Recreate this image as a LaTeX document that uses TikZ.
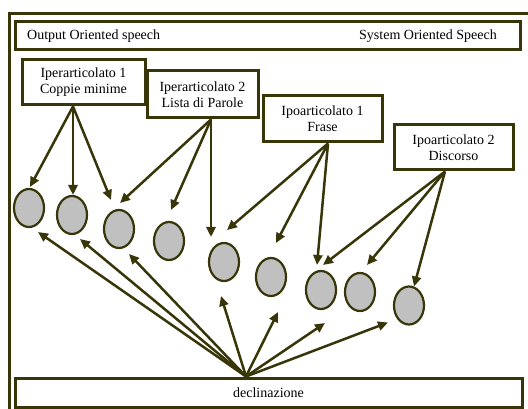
\documentclass[tikz,border=0pt]{standalone}
\usepackage{fontspec}
\setmainfont{Liberation Serif}
\usetikzlibrary{shapes.geometric,arrows.meta,calc}
\definecolor{olive}{RGB}{56,54,8}
\definecolor{dotfill}{RGB}{192,192,192}
\tikzset{
  frame/.style={draw=olive,line width=3pt},
  labelbox/.style={draw=olive,line width=3pt,fill=white,inner sep=0pt,align=center,
    font=\fontsize{14}{16}\selectfont},
  dot/.style={ellipse,draw=olive,line width=2.2pt,fill=dotfill,minimum width=30pt,minimum height=38pt,inner sep=0pt},
  arr/.style={draw=olive,line width=2.5pt,-{Triangle[length=10pt,width=9pt]}},
}
\begin{document}
\begin{tikzpicture}[x=1pt,y=-1pt]
\useasboundingbox (0,0) rectangle (528,409);
% outer frame (only top and left visible)
\draw[frame] (9,409) -- (9,14) -- (528,14);
% banner
\node[labelbox,minimum width=505pt,minimum height=28pt] (banner) at (267.5,36) {};
\node[font=\fontsize{14}{16}\selectfont,anchor=west,inner sep=0pt] (oos) at (27,36) {Output Oriented speech};
\node[font=\fontsize{14}{16}\selectfont,anchor=east,inner sep=0pt] (sos) at (497,36) {System Oriented Speech};
% bottom box
\node[labelbox,minimum width=507pt,minimum height=29pt] (decl) at (268.5,392.5) {declinazione};
% label boxes
\node[labelbox,minimum width=123pt,minimum height=45pt] (b1) at (83.5,82.5) {Iperarticolato 1\\Coppie minime};
\node[labelbox,minimum width=111pt,minimum height=47pt] (b2) at (202.5,94.5) {Iperarticolato 2\\Lista di Parole};
\node[labelbox,minimum width=119pt,minimum height=46pt] (b3) at (322.5,119) {Ipoarticolato 1\\Frase};
\node[labelbox,minimum width=119pt,minimum height=45pt] (b4) at (453.5,147.5) {Ipoarticolato 2\\Discorso};
% ellipses
\node[dot] (e1) at (29,208) {};
\node[dot] (e2) at (72,215) {};
\node[dot] (e3) at (119,229) {};
\node[dot] (e4) at (169,241) {};
\node[dot] (e5) at (224,262) {};
\node[dot] (e6) at (271,277) {};
\node[dot] (e7) at (321,290) {};
\node[dot] (e8) at (360,292) {};
\node[dot] (e9) at (409,305.5) {};
% source points
\coordinate (s1) at ($(b1.south)+(-10.5,0)$);
\coordinate (s2) at ($(b2.south)+(8.5,0)$);
\coordinate (s3) at ($(b3.south)+(5.5,0)$);
\coordinate (s4) at ($(b4.south)+(-8.5,0)$);
\coordinate (sd) at ($(decl.north)+(-22.5,0)$);
% box 1
\draw[arr] (s1) -- ($(e1)+(1,-21)$);
\draw[arr] (s1) -- ($(e2)+(1,-20)$);
\draw[arr] (s1) -- ($(e3)+(-8,-29)$);
% box 2
\draw[arr] (s2) -- ($(e3)+(1,-26)$);
\draw[arr] (s2) -- ($(e4)+(2,-31)$);
\draw[arr] (s2) -- ($(e5)+(-13,-25)$);
% box 3
\draw[arr] (s3) -- ($(e5)+(3,-32)$);
\draw[arr] (s3) -- ($(e6)+(5,-34)$);
\draw[arr] (s3) -- ($(e7)+(-4,-25)$);
% box 4
\draw[arr] (s4) -- ($(e7)+(2,-25)$);
\draw[arr] (s4) -- ($(e8)+(7,-27)$);
\draw[arr] (s4) -- ($(e9)+(5,-19)$);
% declinazione
\draw[arr] (sd) -- ($(e1)+(9,24)$);
\draw[arr] (sd) -- ($(e2)+(8,24)$);
\draw[arr] (sd) -- ($(e3)+(10,25)$);
\draw[arr] (sd) -- ($(e5)+(-3,34)$);
\draw[arr] (sd) -- ($(e6)+(7,35)$);
\draw[arr] (sd) -- ($(e7)+(4,33)$);
\draw[arr] (sd) -- ($(e9)+(-21,17)$);
\end{tikzpicture}
\end{document}
